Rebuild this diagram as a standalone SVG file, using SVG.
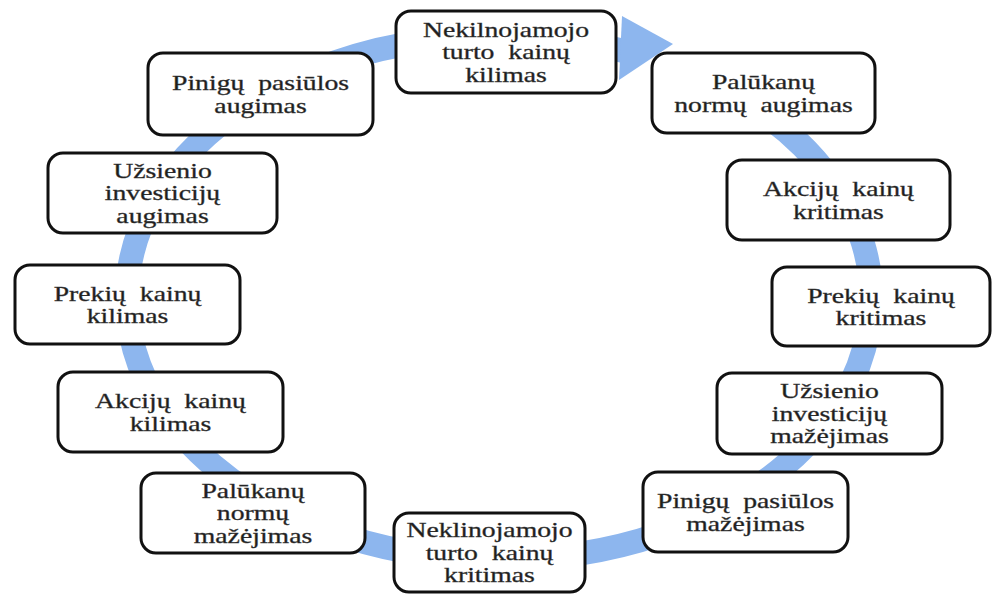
<svg xmlns="http://www.w3.org/2000/svg" width="992" height="594" viewBox="0 0 992 594">
<style>
.box{fill:#fff;stroke:#111;stroke-width:3}
.t{font-family:"Liberation Serif","Times New Roman",serif;font-size:21px;fill:#1e1e1e;stroke:#3a3a3a;stroke-width:0.35;text-anchor:middle}
.band{fill:none;stroke:#8db6ee;stroke-width:24}
.head{fill:#8db6ee}
</style>
<rect width="992" height="594" fill="#fff"/>
<g id="connectors">
<path class="band" d="M 720 87 A 372 262 0 1 1 624 51"/>
<polygon class="head" points="622,16 673,44 619,80"/>
</g>
<g id="n1"><rect class="box" x="396" y="11" width="220" height="82" rx="15"/>
<text class="t" transform="translate(506,36.5) scale(1.32,1)">Nekilnojamojo</text>
<text class="t" transform="translate(506,59) scale(1.32,1)">turto&#160; kainų</text>
<text class="t" transform="translate(506,81.5) scale(1.32,1)">kilimas</text></g>
<g id="n2"><rect class="box" x="652" y="53" width="223" height="80" rx="15"/>
<text class="t" transform="translate(763.5,89) scale(1.32,1)">Palūkanų</text>
<text class="t" transform="translate(763.5,111.5) scale(1.32,1)">normų&#160; augimas</text></g>
<g id="n3"><rect class="box" x="148" y="53" width="225" height="82" rx="15"/>
<text class="t" transform="translate(260.5,90) scale(1.32,1)">Pinigų&#160; pasiūlos</text>
<text class="t" transform="translate(260.5,112.5) scale(1.32,1)">augimas</text></g>
<g id="n4"><rect class="box" x="48" y="153" width="229" height="80" rx="15"/>
<text class="t" transform="translate(162.5,177.5) scale(1.32,1)">Užsienio</text>
<text class="t" transform="translate(162.5,200) scale(1.32,1)">investicijų</text>
<text class="t" transform="translate(162.5,222.5) scale(1.32,1)">augimas</text></g>
<g id="n5"><rect class="box" x="15" y="265" width="225" height="79" rx="15"/>
<text class="t" transform="translate(127.5,300.5) scale(1.32,1)">Prekių&#160; kainų</text>
<text class="t" transform="translate(127.5,323) scale(1.32,1)">kilimas</text></g>
<g id="n6"><rect class="box" x="727" y="160" width="223" height="80" rx="15"/>
<text class="t" transform="translate(838.5,196) scale(1.32,1)">Akcijų&#160; kainų</text>
<text class="t" transform="translate(838.5,218.5) scale(1.32,1)">kritimas</text></g>
<g id="n7"><rect class="box" x="772" y="267" width="218" height="79" rx="15"/>
<text class="t" transform="translate(881,302.5) scale(1.32,1)">Prekių&#160; kainų</text>
<text class="t" transform="translate(881,325) scale(1.32,1)">kritimas</text></g>
<g id="n8"><rect class="box" x="58" y="372" width="225" height="80" rx="15"/>
<text class="t" transform="translate(170.5,408) scale(1.32,1)">Akcijų&#160; kainų</text>
<text class="t" transform="translate(170.5,430.5) scale(1.32,1)">kilimas</text></g>
<g id="n9"><rect class="box" x="141" y="473" width="224" height="80" rx="15"/>
<text class="t" transform="translate(253,497.5) scale(1.32,1)">Palūkanų</text>
<text class="t" transform="translate(253,520) scale(1.32,1)">normų</text>
<text class="t" transform="translate(253,542.5) scale(1.32,1)">mažėjimas</text></g>
<g id="n10"><rect class="box" x="394" y="513" width="191" height="79" rx="15"/>
<text class="t" transform="translate(489.5,537) scale(1.32,1)">Neklinojamojo</text>
<text class="t" transform="translate(489.5,559.5) scale(1.32,1)">turto&#160; kainų</text>
<text class="t" transform="translate(489.5,582) scale(1.32,1)">kritimas</text></g>
<g id="n11"><rect class="box" x="643" y="472" width="205" height="80" rx="15"/>
<text class="t" transform="translate(745.5,508) scale(1.32,1)">Pinigų&#160; pasiūlos</text>
<text class="t" transform="translate(745.5,530.5) scale(1.32,1)">mažėjimas</text></g>
<g id="n12"><rect class="box" x="717" y="373" width="225" height="81" rx="15"/>
<text class="t" transform="translate(829.5,398) scale(1.32,1)">Užsienio</text>
<text class="t" transform="translate(829.5,420.5) scale(1.32,1)">investicijų</text>
<text class="t" transform="translate(829.5,443) scale(1.32,1)">mažėjimas</text></g>
</svg>
